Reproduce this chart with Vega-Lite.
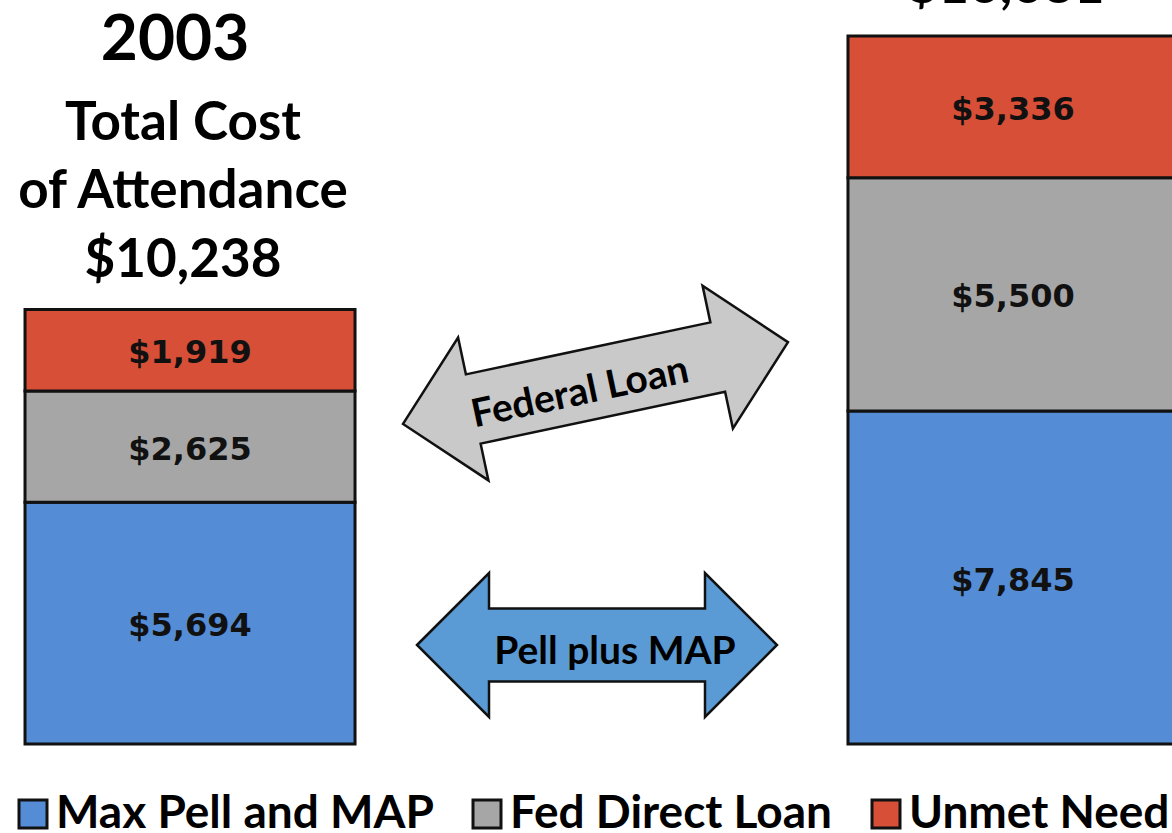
{
  "$schema": "https://vega.github.io/schema/vega-lite/v6.json",
  "width": 1172,
  "height": 833,
  "autosize": {"type": "none"},
  "padding": 0,
  "background": "white",
  "config": {"view": {"stroke": null}},
  "datasets": {
    "segments": [
      {"column": "2003", "category": "Max Pell and MAP", "seq": 1, "amount": 5694, "label": "$5,694"},
      {"column": "2003", "category": "Fed Direct Loan", "seq": 2, "amount": 2625, "label": "$2,625"},
      {"column": "2003", "category": "Unmet Need", "seq": 3, "amount": 1919, "label": "$1,919"},
      {"column": "2013", "category": "Max Pell and MAP", "seq": 1, "amount": 7845, "label": "$7,845"},
      {"column": "2013", "category": "Fed Direct Loan", "seq": 2, "amount": 5500, "label": "$5,500"},
      {"column": "2013", "category": "Unmet Need", "seq": 3, "amount": 3336, "label": "$3,336"}
    ],
    "totals": [
      {"column": "2003", "total": 10238, "year": "2003", "heading": "Total Cost\nof Attendance\n$10,238"},
      {"column": "2013", "total": 16681, "year": "", "heading": "Total Cost\nof Attendance\n$16,681"}
    ],
    "links": [
      {"column": "between", "level": 8506, "label": "Federal Loan", "kind": "loan"},
      {"column": "between", "level": 2333, "label": "Pell plus MAP", "kind": "grant"}
    ]
  },
  "layer": [
    {
      "data": {"name": "segments"},
      "mark": {"type": "bar", "stroke": "#111", "strokeWidth": 3},
      "encoding": {
        "x": {"field": "column", "type": "nominal", "axis": null,
          "scale": {"domain": ["2003", "between", "2013"], "range": [0, 1203], "paddingInner": 0.198, "paddingOuter": 0.0608}},
        "y": {"field": "amount", "type": "quantitative", "stack": "zero", "axis": null,
          "scale": {"domain": [-2097, 17531], "nice": false, "zero": false}},
        "color": {"field": "category", "type": "nominal",
          "scale": {"domain": ["Max Pell and MAP", "Fed Direct Loan", "Unmet Need"], "range": ["#548dd5", "#a6a6a6", "#d74f37"]},
          "legend": {"orient": "none", "legendX": 10, "legendY": 791, "direction": "horizontal", "title": null,
            "symbolType": "square", "symbolSize": 784, "symbolStrokeColor": "#111", "symbolStrokeWidth": 3, "symbolOpacity": 1,
            "labelFont": "Lato", "labelFontSize": 46, "labelFontWeight": "bold", "labelColor": "#000", "labelOffset": 0,
            "columnPadding": 30, "padding": 0, "labelLimit": 0}},
        "order": {"field": "seq", "type": "quantitative"}
      }
    },
    {
      "data": {"name": "segments"},
      "transform": [
        {"stack": "amount", "groupby": ["column"], "sort": [{"field": "seq", "order": "ascending"}], "as": ["lo", "hi"]},
        {"calculate": "(datum.lo + datum.hi) / 2", "as": "mid"}
      ],
      "mark": {"type": "text", "font": "DejaVu Sans", "fontWeight": "bold", "fontSize": 32, "color": "#111", "baseline": "middle", "dy": 3},
      "encoding": {
        "x": {"field": "column", "type": "nominal"},
        "y": {"field": "mid", "type": "quantitative"},
        "text": {"field": "label"}
      }
    },
    {
      "data": {"name": "totals"},
      "mark": {"type": "text", "font": "Lato", "fontWeight": "bold", "fontSize": 53, "lineBreak": "\n", "lineHeight": 68.5, "baseline": "alphabetic", "dx": -7, "dy": -170, "color": "#000"},
      "encoding": {
        "x": {"field": "column", "type": "nominal"},
        "y": {"field": "total", "type": "quantitative"},
        "text": {"field": "heading"}
      }
    },
    {
      "data": {"name": "totals"},
      "transform": [{"filter": "datum.year !== ''"}],
      "mark": {"type": "text", "font": "Lato", "fontWeight": "bold", "fontSize": 64, "baseline": "alphabetic", "dx": -15, "dy": -250, "color": "#000"},
      "encoding": {
        "x": {"field": "column", "type": "nominal"},
        "y": {"field": "total", "type": "quantitative"},
        "text": {"field": "year"}
      }
    },
    {
      "data": {"name": "links"},
      "transform": [{"filter": "datum.kind === 'loan'"}],
      "mark": {"type": "point", "shape": "M-1,0L-0.635,-0.371L-0.635,-0.18L0.635,-0.18L0.635,-0.371L1,0L0.635,0.371L0.635,0.18L-0.635,0.18L-0.635,0.371Z",
        "size": 154900, "filled": true, "fill": "#c9c9c9", "stroke": "#111", "strokeWidth": 2.5, "opacity": 1, "angle": -12, "xOffset": -6},
      "encoding": {
        "x": {"field": "column", "type": "nominal"},
        "y": {"field": "level", "type": "quantitative"}
      }
    },
    {
      "data": {"name": "links"},
      "transform": [{"filter": "datum.kind === 'grant'"}],
      "mark": {"type": "point", "shape": "M-1,0L-0.6,-0.4L-0.6,-0.203L0.6,-0.203L0.6,-0.4L1,0L0.6,0.4L0.6,0.203L-0.6,0.203L-0.6,0.4Z",
        "size": 129600, "filled": true, "fill": "#5b9bd5", "stroke": "#111", "strokeWidth": 2.5, "opacity": 1, "xOffset": -4.5},
      "encoding": {
        "x": {"field": "column", "type": "nominal"},
        "y": {"field": "level", "type": "quantitative"}
      }
    },
    {
      "data": {"name": "links"},
      "transform": [{"filter": "datum.kind === 'loan'"}],
      "mark": {"type": "text", "font": "Lato", "fontWeight": "bold", "fontSize": 39, "angle": -12, "dx": -23, "dy": 5, "baseline": "middle", "align": "center", "color": "#000"},
      "encoding": {
        "x": {"field": "column", "type": "nominal"},
        "y": {"field": "level", "type": "quantitative"},
        "text": {"field": "label"}
      }
    },
    {
      "data": {"name": "links"},
      "transform": [{"filter": "datum.kind === 'grant'"}],
      "mark": {"type": "text", "font": "Lato", "fontWeight": "bold", "fontSize": 39, "dx": 13.5, "dy": 7, "baseline": "middle", "align": "center", "color": "#000"},
      "encoding": {
        "x": {"field": "column", "type": "nominal"},
        "y": {"field": "level", "type": "quantitative"},
        "text": {"field": "label"}
      }
    }
  ]
}
